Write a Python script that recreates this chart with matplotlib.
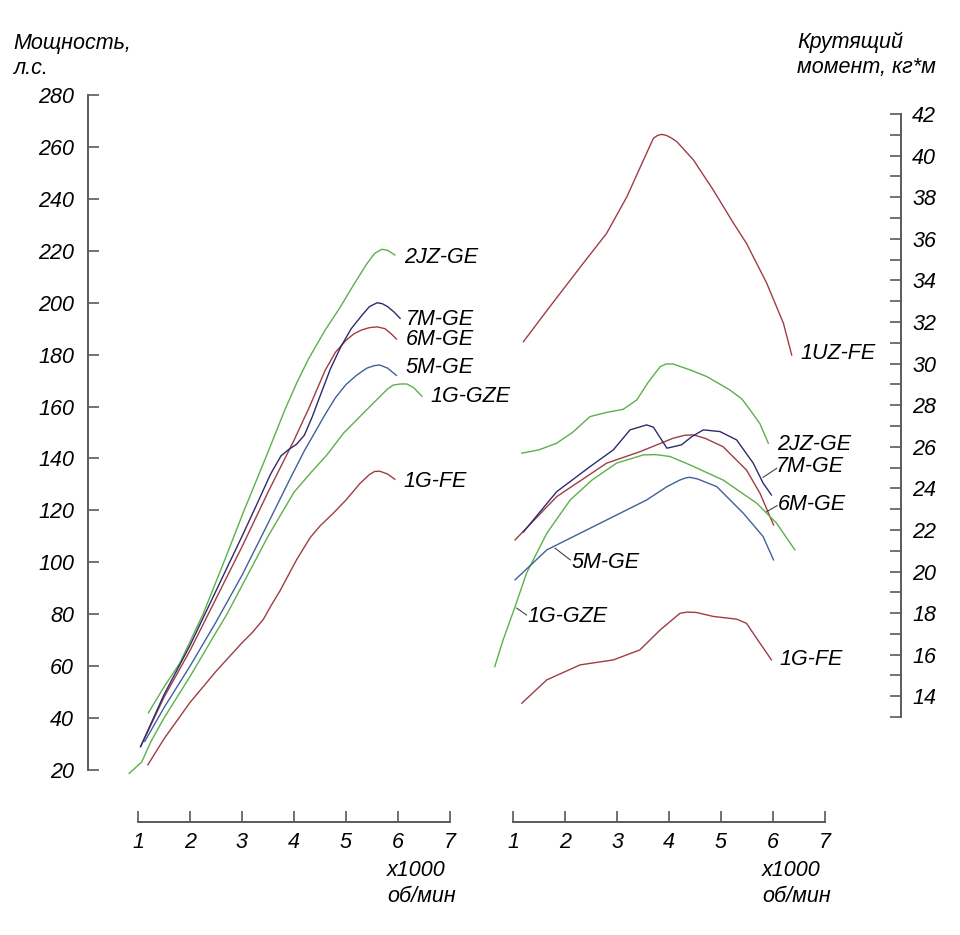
import matplotlib
matplotlib.use("Agg")
from matplotlib import pyplot as plt

plt.rcParams['font.family'] = ['Liberation Sans', 'DejaVu Sans']
plt.rcParams['font.style'] = 'italic'
plt.rcParams['font.size'] = 15.5

GREEN = '#5cb04c'
RED = '#a03c44'
NAVY = '#2c2c6c'
BLUE = '#40609c'
AXIS = '#5a5a5a'

# --- power, hp (left panel) ---
rpm_2jz_p = [1.2, 1.5, 1.8, 2.25, 2.65, 3.02, 3.45, 3.83, 4.05, 4.27, 4.6, 4.88, 5.15, 5.4, 5.55, 5.69, 5.8, 5.94]
hp_2jz = [42, 52, 61, 80, 100, 119, 140, 159, 169, 178, 189.5, 198, 207, 215, 219, 220.6, 220.2, 218.4]
rpm_7m_p = [1.05, 1.5, 2.0, 2.5, 3.0, 3.3, 3.55, 3.75, 3.9, 4.05, 4.2, 4.35, 4.5, 4.7, 4.9,
            5.1, 5.3, 5.45, 5.6, 5.7, 5.8, 5.92, 6.04]
hp_7m = [29, 49, 68, 89, 110, 123, 134, 141, 143.5, 145.5, 149, 156, 164, 174.5, 183,
         190, 195, 198.5, 200, 199.6, 198.5, 196.5, 194]
rpm_6m_p = [1.05, 1.5, 2.0, 2.5, 3.0, 3.5, 3.75, 4.0, 4.3, 4.6, 4.8, 5.0, 5.15, 5.3, 5.45, 5.6, 5.75, 5.87, 5.97]
hp_6m = [29, 48, 66, 86, 106, 127, 137, 147, 160, 174, 181, 185.5, 188, 189.5, 190.4, 190.7, 190, 188, 186]
rpm_5m_p = [1.13, 1.5, 2.0, 2.5, 3.0, 3.5, 3.92, 4.2, 4.4, 4.6, 4.8, 5.0, 5.2, 5.4, 5.55, 5.65, 5.8, 5.97]
hp_5m = [31, 44, 60, 77, 95, 115, 132, 143, 150, 157, 163.5, 168.5, 172, 174.8, 175.8, 176, 174.8, 172]
rpm_gze_p = [0.83, 1.07, 1.25, 1.5, 2.0, 2.5, 2.71, 3.0, 3.5, 4.0, 4.3, 4.63, 4.95, 5.33, 5.65,
             5.8, 5.91, 6.05, 6.17, 6.3, 6.46]
hp_gze = [18.7, 23, 31, 40, 56, 73, 80, 91, 110, 127, 134, 141.3, 149.7, 157.4, 163.8,
          166.8, 168.3, 168.7, 168.7, 167.3, 164]
rpm_1gfe_p = [1.19, 1.5, 2.0, 2.5, 3.0, 3.2, 3.41, 3.55, 3.73, 4.05, 4.31, 4.5, 4.76, 5.0, 5.27,
              5.45, 5.55, 5.65, 5.8, 5.94]
hp_1gfe = [22, 32, 46, 58, 69, 73, 78, 83, 89, 101, 109.5, 114, 119, 124, 130.4,
           133.8, 135, 135.1, 134, 132]

# --- torque, kg*m (right panel) ---
rpm_1uz = [1.20, 1.71, 2.35, 2.80, 3.19, 3.51, 3.70, 3.78, 3.86, 3.95, 4.05, 4.15, 4.47, 4.85,
           5.24, 5.49, 5.88, 6.20, 6.36]
tq_1uz = [31.05, 32.74, 34.82, 36.26, 38.02, 39.79, 40.83, 40.97, 41.02, 40.97, 40.84, 40.67, 39.79, 38.35,
          36.75, 35.78, 33.86, 31.94, 30.41]
rpm_2jz_t = [1.17, 1.5, 1.84, 2.15, 2.48, 2.8, 3.12, 3.38, 3.6, 3.83, 3.95, 4.08, 4.4, 4.73,
             5.17, 5.4, 5.56, 5.75, 5.91]
tq_2jz = [25.69, 25.85, 26.17, 26.7, 27.45, 27.65, 27.80, 28.25, 29.1, 29.85, 29.98, 29.98, 29.7, 29.37,
          28.73, 28.3, 27.77, 27.1, 26.17]
rpm_7m_t = [1.20, 1.84, 2.48, 2.93, 3.25, 3.57, 3.70, 3.96, 4.24, 4.44, 4.66, 4.98, 5.30, 5.62, 5.81, 5.97]
tq_7m = [21.9, 23.84, 25.04, 25.85, 26.81, 27.05, 26.94, 25.93, 26.09, 26.49, 26.81, 26.73, 26.33, 25.21, 24.25, 23.68]
rpm_6m_t = [1.04, 1.84, 2.80, 3.44, 4.08, 4.3, 4.47, 4.7, 5.04, 5.49, 5.75, 6.01]
tq_6m = [21.52, 23.60, 25.21, 25.76, 26.41, 26.55, 26.57, 26.4, 26.0, 24.88, 23.76, 22.24]
rpm_gze_t = [0.65, 0.81, 1.04, 1.26, 1.65, 2.10, 2.52, 2.99, 3.51, 3.75, 4.02, 4.40, 5.04, 5.69, 6.07, 6.42]
tq_gze = [15.43, 16.71, 18.31, 19.92, 21.84, 23.44, 24.40, 25.21, 25.61, 25.62, 25.53, 25.13, 24.40, 23.28, 22.32, 21.04]
rpm_5m_t = [1.04, 1.65, 2.29, 2.93, 3.57, 3.96, 4.21, 4.32, 4.40, 4.55, 4.92, 5.43, 5.81, 6.01]
tq_5m = [19.60, 21.04, 21.84, 22.64, 23.44, 24.08, 24.40, 24.5, 24.53, 24.45, 24.08, 22.80, 21.68, 20.56]
rpm_1gfe_t = [1.17, 1.65, 2.29, 2.93, 3.44, 3.83, 4.21, 4.35, 4.53, 4.85, 5.30, 5.49, 5.75, 5.97]
tq_1gfe = [13.67, 14.79, 15.51, 15.75, 16.23, 17.19, 17.99, 18.05, 18.03, 17.84, 17.71, 17.51, 16.55, 15.75]

rpm_ticks = [1, 2, 3, 4, 5, 6, 7]
hp_ticks = list(range(20, 281, 20))
tq_ticks = list(range(14, 43, 2))
tq_minor = list(range(13, 42, 2))

W, H = 960, 935
fig = plt.figure(figsize=(W / 100, H / 100), dpi=100)


def rect(x0, y0, x1, y1):
    return [x0 / W, (H - y1) / H, (x1 - x0) / W, (y1 - y0) / H]


# left panel
ax1 = fig.add_axes(rect(86, 69.1, 476, 821.9))
ax1.set_xlim(0, 7.5)
ax1.set_ylim(0, 290)
ax1.plot(rpm_2jz_p, hp_2jz, color=GREEN, lw=1)
ax1.plot(rpm_6m_p, hp_6m, color=RED, lw=1)
ax1.plot(rpm_7m_p, hp_7m, color=NAVY, lw=1)
ax1.plot(rpm_5m_p, hp_5m, color=BLUE, lw=1)
ax1.plot(rpm_gze_p, hp_gze, color=GREEN, lw=1)
ax1.plot(rpm_1gfe_p, hp_1gfe, color=RED, lw=1)

for name, x, y in [('2JZ-GE', 6.12, 217.6), ('7M-GE', 6.15, 193.7), ('6M-GE', 6.15, 186.0),
                   ('5M-GE', 6.15, 175.2), ('1G-GZE', 6.62, 163.7), ('1G-FE', 6.10, 131.0)]:
    ax1.text(x, y, name, va='center', ha='left')

ax1.spines['top'].set_visible(False)
ax1.spines['right'].set_visible(False)
ax1.spines['left'].set_position(('data', 0.038))
ax1.spines['left'].set_bounds(20, 280)
ax1.spines['bottom'].set_bounds(1, 7)
ax1.set_xticks(rpm_ticks)
ax1.set_yticks(hp_ticks)
ax1.tick_params(axis='y', direction='in', length=8, width=1.2, color=AXIS, pad=10)
ax1.tick_params(axis='x', direction='in', length=8, width=1.2, color=AXIS, pad=7)
ax1.patch.set_visible(False)

# right panel
ax2 = fig.add_axes(rect(487, 93.2, 908.2, 821.9))
ax2.set_xlim(0.5, 8.6)
ax2.set_ylim(7.96, 43)
ax2.plot(rpm_1uz, tq_1uz, color=RED, lw=1)
ax2.plot(rpm_2jz_t, tq_2jz, color=GREEN, lw=1)
ax2.plot(rpm_6m_t, tq_6m, color=RED, lw=1)
ax2.plot(rpm_7m_t, tq_7m, color=NAVY, lw=1)
ax2.plot(rpm_gze_t, tq_gze, color=GREEN, lw=1)
ax2.plot(rpm_5m_t, tq_5m, color=BLUE, lw=1)
ax2.plot(rpm_1gfe_t, tq_1gfe, color=RED, lw=1)

for name, x, y in [('1UZ-FE', 6.52, 30.46), ('2JZ-GE', 6.08, 26.13), ('7M-GE', 6.06, 25.03),
                   ('6M-GE', 6.10, 23.20), ('5M-GE', 2.13, 20.41), ('1G-GZE', 1.27, 17.82),
                   ('1G-FE', 6.13, 15.75)]:
    ax2.text(x, y, name, va='center', ha='left')
# leader lines
ax2.plot([5.81, 6.07], [24.53, 24.96], color='#444444', lw=0.8)
ax2.plot([5.88, 6.08], [22.88, 23.17], color='#444444', lw=0.8)
ax2.plot([1.81, 2.10], [21.12, 20.56], color='#444444', lw=0.8)
ax2.plot([1.07, 1.26], [18.24, 17.91], color='#444444', lw=0.8)

ax2.spines['top'].set_visible(False)
ax2.spines['left'].set_visible(False)
ax2.spines['right'].set_position(('data', 8.46))
ax2.spines['right'].set_bounds(13, 42)
ax2.spines['bottom'].set_bounds(1, 7)
ax2.yaxis.tick_right()
ax2.set_xticks(rpm_ticks)
ax2.set_yticks(tq_ticks)
ax2.set_yticks(tq_minor, minor=True)
ax2.tick_params(axis='y', which='both', direction='in', length=8, width=1.2, color=AXIS, pad=8)
ax2.tick_params(axis='x', direction='in', length=8, width=1.2, color=AXIS, pad=7)
ax2.patch.set_visible(False)

for ax in (ax1, ax2):
    for s in ax.spines.values():
        s.set_color(AXIS)
        s.set_linewidth(1.4)

# axis titles
fig.text(13 / W, 1 - 43 / H, 'Мощность,', va='center', ha='left')
fig.text(13 / W, 1 - 68 / H, 'л.с.', va='center', ha='left')
fig.text(797 / W, 1 - 42 / H, 'Крутящий', va='center', ha='left')
fig.text(797 / W, 1 - 68 / H, 'момент, кг*м', va='center', ha='left')
for xr in (387, 762):
    fig.text(xr / W, 1 - 870 / H, 'x1000', va='center', ha='left')
    fig.text(xr / W, 1 - 896 / H, 'об/мин', va='center', ha='left')

fig.savefig('out.png', dpi=100, facecolor='white')
